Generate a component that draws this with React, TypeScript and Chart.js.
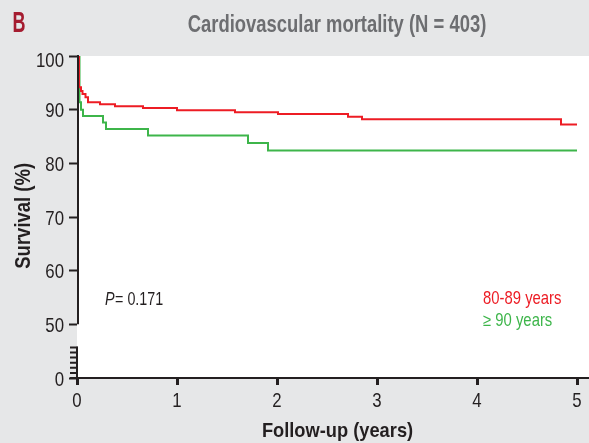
import React, { useEffect, useRef } from 'react';
import { Chart, registerables } from 'chart.js';

Chart.register(...registerables);

// ---- data ----
const GROUP_LABELS = ['80-89 years', '≥ 90 years'];
const GROUP_COLORS = ['#ed1c24', '#3db54a'];
const TIMES_80_89 = [0, 0.02, 0.04, 0.055, 0.085, 0.11, 0.23, 0.38, 0.66, 1.0, 1.58, 2.01, 2.71, 2.85, 4.84, 5.0];
const SURV_80_89 = [100, 94.2, 93.5, 92.9, 92.3, 91.4, 91.0, 90.65, 90.3, 89.9, 89.5, 89.2, 88.7, 88.2, 87.25, 87.25];
const TIMES_90 = [0, 0.025, 0.04, 0.06, 0.26, 0.29, 0.71, 1.71, 1.91, 5.0];
const SURV_90 = [100, 91.4, 90.0, 88.8, 87.6, 86.4, 85.2, 83.8, 82.4, 82.4];
const X_TICKS = [0, 1, 2, 3, 4, 5];
const Y_TICKS = [40, 50, 60, 70, 80, 90, 100];
const Y_TICK_LABELS = ['0', '50', '60', '70', '80', '90', '100'];
const PANEL = 'B';
const TITLE = 'Cardiovascular mortality (N = 403)';
const X_TITLE = 'Follow-up (years)';
const Y_TITLE = 'Survival (%)';
const P_LABEL = 'P';
const P_VALUE = '= 0.171';

const SANS = '"Liberation Sans", Arimo, Arial, Helvetica, sans-serif';
const INK = '#231f20';

function drawText(
  ctx: CanvasRenderingContext2D,
  s: string,
  x: number,
  y: number,
  font: string,
  sx: number,
  align: CanvasTextAlign,
  color: string,
  rotate = 0,
) {
  ctx.save();
  ctx.font = font;
  ctx.fillStyle = color;
  ctx.textAlign = align;
  ctx.textBaseline = 'alphabetic';
  ctx.translate(x, y);
  if (rotate) ctx.rotate(rotate);
  ctx.scale(sx, 1);
  ctx.fillText(s, 0, 0);
  ctx.restore();
}

const decor = {
  id: 'decor',
  beforeDraw(chart: any) {
    const { ctx, chartArea: a, width, height } = chart;
    ctx.save();
    ctx.fillStyle = '#e6e7e8';
    ctx.fillRect(0, 0, width, height);
    ctx.fillStyle = '#ffffff';
    ctx.fillRect(a.left, a.top, a.right - a.left, a.bottom - a.top);
    ctx.restore();
  },
  afterDatasetsDraw(chart: any) {
    const { ctx, chartArea: a } = chart;
    const y = chart.scales.y;
    const ax = a.left + 1;
    ctx.save();
    ctx.strokeStyle = INK;
    ctx.lineWidth = 2;
    // upper (unbroken) part of the y axis
    ctx.beginPath();
    ctx.moveTo(ax, y.getPixelForValue(100) - 1);
    ctx.lineTo(ax, y.getPixelForValue(50));
    ctx.stroke();
    // broken-axis hatch
    const hTop = y.getPixelForValue(45.8);
    ctx.beginPath();
    ctx.moveTo(ax - 1, hTop);
    ctx.lineTo(ax - 1, a.bottom);
    ctx.stroke();
    ctx.beginPath();
    for (let i = 0; i < 7; i++) {
      const yy = y.getPixelForValue(40 + i * 0.95);
      ctx.moveTo(a.left - 7, yy);
      ctx.lineTo(ax, yy);
    }
    ctx.stroke();
    ctx.restore();
  },
  afterDraw(chart: any) {
    const { ctx } = chart;
    const xs = chart.scales.x;
    const ys = chart.scales.y;
    // panel letter and title
    drawText(ctx, PANEL, 12.5, 31.5, `bold 29px ${SANS}`, 0.62, 'left', '#a51c30');
    drawText(ctx, TITLE, 337, 31.5, `bold 23.2px ${SANS}`, 0.795, 'center', '#6d6e71');
    // tick labels, placed through the scales
    const tickFont = `21px ${SANS}`;
    xs.ticks.forEach((t: any) => {
      drawText(ctx, String(t.value), xs.getPixelForValue(t.value), 406.5, tickFont, 0.8, 'center', INK);
    });
    ys.ticks.forEach((t: any) => {
      const i = Y_TICKS.indexOf(t.value);
      if (i < 0) return;
      const py = ys.getPixelForValue(t.value) + 7.5 + (t.value === 100 ? 3 : 0);
      drawText(ctx, Y_TICK_LABELS[i], 64, py, tickFont, 0.8, 'right', INK);
    });
    // axis titles
    drawText(ctx, X_TITLE, 337.5, 436.5, `bold 21px ${SANS}`, 0.87, 'center', INK);
    drawText(ctx, Y_TITLE, 29.5, 215.8, `bold 21.5px ${SANS}`, 0.86, 'center', INK, -Math.PI / 2);
    // p value
    ctx.save();
    ctx.font = `italic 17.7px ${SANS}`;
    const pw = ctx.measureText(P_LABEL).width * 0.81;
    ctx.restore();
    drawText(ctx, P_LABEL, 105, 305, `italic 17.7px ${SANS}`, 0.81, 'left', INK);
    drawText(ctx, P_VALUE, 105 + pw + 0.5, 305, `17.7px ${SANS}`, 0.81, 'left', INK);
    // legend text
    chart.data.datasets.forEach((ds: any, i: number) => {
      drawText(ctx, ds.label, 483, 304.3 + i * 21.5, `17.7px ${SANS}`, 0.84, 'left', ds.borderColor);
    });
  },
};

export default function App() {
  const ref = useRef<HTMLCanvasElement | null>(null);

  useEffect(() => {
    document.body.style.margin = '0';
    const canvas = ref.current;
    if (!canvas) return;
    const chart = new Chart(canvas, {
      type: 'line',
      data: {
        datasets: [
          {
            label: GROUP_LABELS[0],
            data: TIMES_80_89.map((t, i) => ({ x: t, y: SURV_80_89[i] })),
            borderColor: GROUP_COLORS[0],
            borderWidth: 2,
            pointRadius: 0,
            stepped: 'before',
            fill: false,
          },
          {
            label: GROUP_LABELS[1],
            data: TIMES_90.map((t, i) => ({ x: t, y: SURV_90[i] })),
            borderColor: GROUP_COLORS[1],
            borderWidth: 2,
            pointRadius: 0,
            stepped: 'before',
            fill: false,
          },
        ],
      },
      options: {
        animation: false,
        responsive: false,
        devicePixelRatio: 1,
        layout: { padding: { top: 56, left: 0, right: 0, bottom: 0 } },
        plugins: {
          legend: { display: false },
          title: { display: false },
          tooltip: { enabled: false },
        },
        scales: {
          x: {
            type: 'linear',
            min: 0,
            max: 5.12,
            afterBuildTicks: (s: any) => {
              s.ticks = X_TICKS.map((v) => ({ value: v }));
            },
            afterFit: (s: any) => {
              s.height = 65;
            },
            ticks: { display: false },
            grid: {
              drawOnChartArea: false,
              drawTicks: true,
              tickLength: 7,
              tickWidth: 3,
              tickColor: INK,
            },
            border: { display: true, color: INK, width: 2 },
            title: { display: false, text: X_TITLE },
          },
          y: {
            type: 'linear',
            min: 40,
            max: 100,
            afterBuildTicks: (s: any) => {
              s.ticks = Y_TICKS.map((v) => ({ value: v }));
            },
            afterFit: (s: any) => {
              s.width = 77;
            },
            ticks: { display: false },
            grid: {
              drawOnChartArea: false,
              drawTicks: true,
              tickLength: 8,
              tickWidth: 2,
              tickColor: INK,
            },
            border: { display: false },
            title: { display: false, text: Y_TITLE },
          },
        },
      },
      plugins: [decor],
    } as any);
    return () => chart.destroy();
  }, []);

  return (
    <div style={{ position: 'absolute', left: 0, top: 0, width: 589, height: 443 }}>
      <canvas ref={ref} width={589} height={443} style={{ display: 'block', width: 589, height: 443 }} />
    </div>
  );
}
